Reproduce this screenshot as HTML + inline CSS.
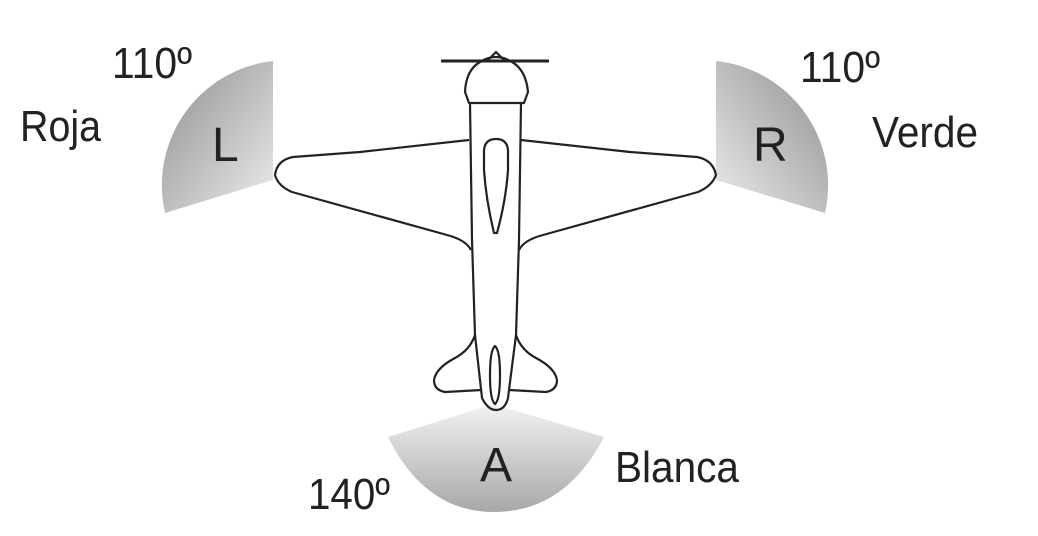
<!DOCTYPE html>
<html><head><meta charset="utf-8"><style>html,body{margin:0;padding:0;background:#fff}svg{display:block}</style></head>
<body>
<svg width="1038" height="536" viewBox="0 0 1038 536" xmlns="http://www.w3.org/2000/svg" font-family="Liberation Sans, sans-serif" fill="#222">
<defs>
<linearGradient id="gl" x1="0" y1="0" x2="1" y2="1"><stop offset="0" stop-color="#8f8f8f"/><stop offset="1" stop-color="#ececec"/></linearGradient>
<linearGradient id="gr" x1="1" y1="0" x2="0" y2="1"><stop offset="0" stop-color="#8f8f8f"/><stop offset="1" stop-color="#ececec"/></linearGradient>
<linearGradient id="gb" x1="0" y1="0" x2="0" y2="1"><stop offset="0" stop-color="#f2f2f2"/><stop offset="1" stop-color="#a8a8a8"/></linearGradient>
</defs>
<path d="M273,61 L273,180 L165,213 A125 125 0 0 1 273,61 Z" fill="url(#gl)"/>
<path d="M716,61 L716,180 L825,213 A125 125 0 0 0 716,61 Z" fill="url(#gr)"/>
<path d="M388,437 L494,404 L604,437 Q565,512 494,512 Q425,512 388,437 Z" fill="url(#gb)"/>
<g fill="none" stroke="#222" stroke-width="2.2" stroke-linejoin="round">
<line x1="441" y1="61" x2="549" y2="61" stroke-width="3"/>
<path d="M487,61 L496,52 L505,61"/>
<path d="M469,103 L465,92 Q466,70 480,62 Q496,52 512,62 Q526,70 528,92 L524,103 Z"/>
<path d="M470,103 L472,240 L475,335 L482,398 Q488,410 496,410 Q505,410 508,398 L516,335 L519,240 L521,103"/>
<path d="M469,140 L360,152 L293,157 Q277,160 275,175 Q278,186 292,192 L447,235 Q466,240 471,250"/>
<path d="M521,140 L630,152 L697,157 Q713,160 716,175 Q712,186 698,192 L543,235 Q524,240 519,250"/>
<path d="M496,139 Q485,139 484,150 L484,170 Q486,200 494,233 L497,233 Q506,200 508,170 L508,150 Q507,139 496,139 Z"/>
<path d="M475,335 Q470,350 455,358 Q436,368 434,380 Q434,390 445,392 L482,390"/>
<path d="M516,335 Q521,350 536,358 Q555,368 557,380 Q557,390 546,392 L509,390"/>
<path d="M495,346 Q490,350 490,375 Q490,400 495,404 Q500,400 500,375 Q500,350 495,346 Z"/>
</g>
<g font-size="44">
<text x="112" y="78" textLength="80" lengthAdjust="spacingAndGlyphs">110º</text>
<text x="20" y="141" textLength="81" lengthAdjust="spacingAndGlyphs">Roja</text>
<text x="212" y="161" font-size="48">L</text>
<text x="753" y="161" font-size="48">R</text>
<text x="800" y="82" textLength="80" lengthAdjust="spacingAndGlyphs">110º</text>
<text x="872" y="147" textLength="106" lengthAdjust="spacingAndGlyphs">Verde</text>
<text x="480" y="481" font-size="48">A</text>
<text x="615" y="482" textLength="124" lengthAdjust="spacingAndGlyphs">Blanca</text>
<text x="308" y="509" textLength="82" lengthAdjust="spacingAndGlyphs">140º</text>
</g>
</svg>
</body></html>
